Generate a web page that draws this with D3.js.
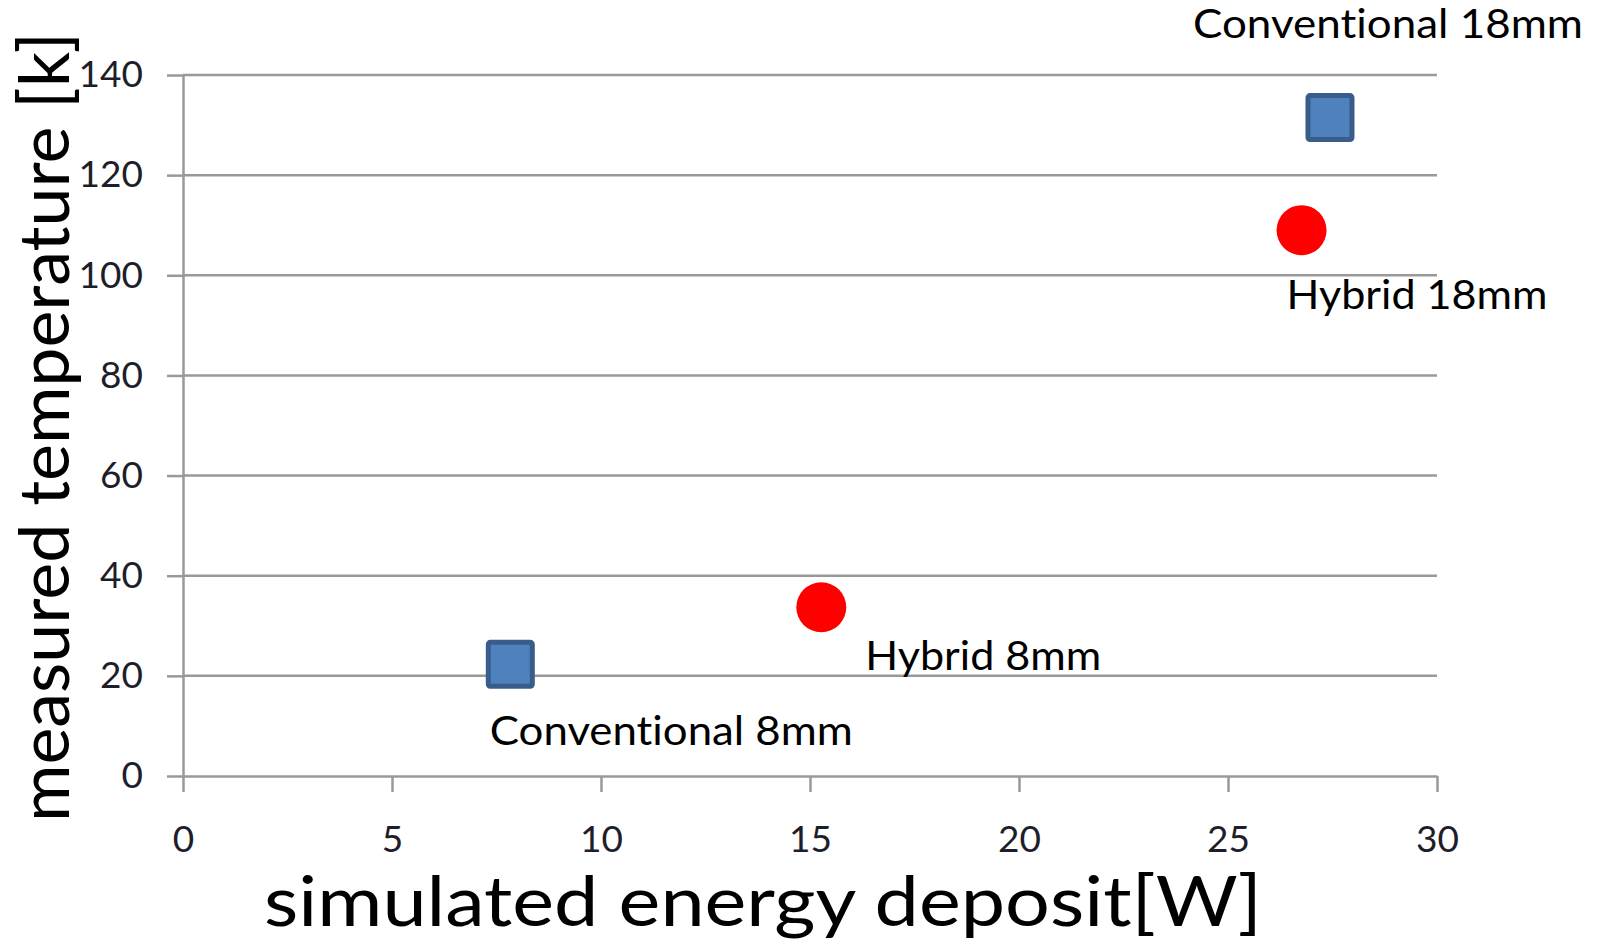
<!DOCTYPE html>
<html>
<head>
<meta charset="utf-8">
<script src="https://cdn.jsdelivr.net/npm/d3@7/dist/d3.min.js"></script>
<style>
  html, body { margin: 0; padding: 0; background: #fff; }
  svg { display: block; }
  text { font-variant-ligatures: none; font-feature-settings: "liga" 0, "clig" 0; }
</style>
</head>
<body>
<svg id="chart" width="1604" height="945"></svg>
<script>
// ---- data ----
const xTicks = [0, 5, 10, 15, 20, 25, 30];
const yTicks = [0, 20, 40, 60, 80, 100, 120, 140];

const convX = [7.83, 27.44];
const convY = [22.3, 131.5];
const convLabels = ["Conventional 8mm", "Conventional 18mm"];

const hybX = [15.27, 26.76];
const hybY = [33.7, 109.0];
const hybLabels = ["Hybrid 8mm", "Hybrid 18mm"];

const xTitle = "simulated energy deposit[W]";
const yTitle = "measured temperature [k]";

// ---- layout (not data) ----
const plot = { left: 183, right: 1437, top: 75, bottom: 776 };
const convLabelLayout = [ {dx: -20.5, dy: 80.5, w: 363}, {dx: -137, dy: -80, w: 390} ];
const hybLabelLayout  = [ {dx: 44, dy: 63, w: 236}, {dx: -15, dy: 79, w: 261} ];
const FONT = "Lato, 'Open Sans', sans-serif";
const axisColor = "#999999";

const svg = d3.select("#chart");
const x = d3.scaleLinear().domain([0, 30]).range([plot.left, plot.right]);
const y = d3.scaleLinear().domain([0, 140]).range([plot.bottom, plot.top]);

// gridlines
svg.append("g")
  .selectAll("line")
  .data(yTicks.filter(d => d > 0))
  .join("line")
  .attr("x1", plot.left).attr("x2", plot.right)
  .attr("y1", d => y(d)).attr("y2", d => y(d))
  .attr("stroke", axisColor).attr("stroke-width", 2.5);

// y axis
const yAxis = svg.append("g")
  .attr("transform", `translate(${plot.left},0)`)
  .call(d3.axisLeft(y).tickValues(yTicks).tickSize(16).tickPadding(24).tickSizeOuter(0));
yAxis.select(".domain").attr("stroke", axisColor).attr("stroke-width", 2.5);
yAxis.selectAll(".tick line").attr("stroke", axisColor).attr("stroke-width", 2.5);
yAxis.selectAll(".tick text")
  .attr("font-family", FONT).attr("font-size", 37).attr("fill", "#1e1e2a")
  .attr("dy", "0.32em");

// x axis
const xAxis = svg.append("g")
  .attr("transform", `translate(0,${plot.bottom})`)
  .call(d3.axisBottom(x).tickValues(xTicks).tickSize(16).tickPadding(34).tickSizeOuter(0));
xAxis.select(".domain").attr("stroke", axisColor).attr("stroke-width", 2.5);
xAxis.selectAll(".tick line").attr("stroke", axisColor).attr("stroke-width", 2.5);
xAxis.selectAll(".tick text")
  .attr("font-family", FONT).attr("font-size", 37).attr("fill", "#1e1e2a");

// hybrid series (red circles)
svg.append("g")
  .selectAll("circle")
  .data(hybX.map((v, i) => ({x: v, y: hybY[i]})))
  .join("circle")
  .attr("cx", d => x(d.x)).attr("cy", d => y(d.y))
  .attr("r", 25)
  .attr("fill", "#ff0000");

// conventional series (blue squares)
const sq = 44;
svg.append("g")
  .selectAll("rect")
  .data(convX.map((v, i) => ({x: v, y: convY[i]})))
  .join("rect")
  .attr("x", d => x(d.x) - sq / 2).attr("y", d => y(d.y) - sq / 2)
  .attr("width", sq).attr("height", sq)
  .attr("rx", 2)
  .attr("fill", "#4f81bd").attr("stroke", "#385d8a").attr("stroke-width", 5);

// labels
function addLabels(xs, ys, labels, layout) {
  svg.append("g")
    .selectAll("text")
    .data(labels.map((t, i) => ({t, x: xs[i], y: ys[i], l: layout[i]})))
    .join("text")
    .attr("x", d => x(d.x) + d.l.dx)
    .attr("y", d => y(d.y) + d.l.dy)
    .attr("font-family", FONT).attr("font-size", 40).attr("fill", "#000")
    .attr("textLength", d => d.l.w).attr("lengthAdjust", "spacingAndGlyphs")
    .text(d => d.t);
}
addLabels(convX, convY, convLabels, convLabelLayout);
addLabels(hybX, hybY, hybLabels, hybLabelLayout);

// axis titles
svg.append("text")
  .attr("x", 264).attr("y", 926)
  .attr("font-family", FONT).attr("font-size", 69).attr("fill", "#000")
  .attr("textLength", 998).attr("lengthAdjust", "spacingAndGlyphs")
  .text(xTitle);

svg.append("text")
  .attr("transform", "translate(69,822) rotate(-90)")
  .attr("font-family", FONT).attr("font-size", 69).attr("fill", "#000")
  .attr("textLength", 790).attr("lengthAdjust", "spacingAndGlyphs")
  .text(yTitle);
</script>
</body>
</html>
